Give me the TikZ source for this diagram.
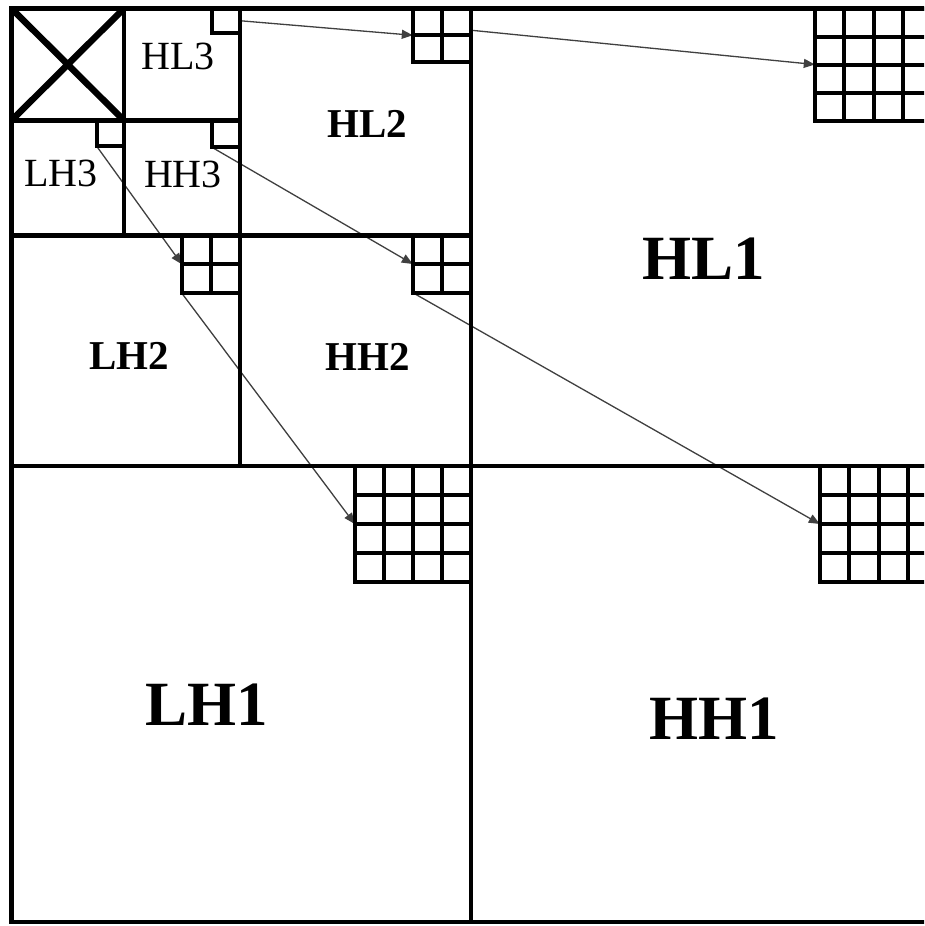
\documentclass[tikz,border=0pt]{standalone}
\usepackage{fontspec}
\setmainfont{Liberation Serif}
\usetikzlibrary{arrows.meta,fit}
\pgfdeclarelayer{bg}
\pgfsetlayers{bg,main}
\newcommand{\blocknode}[5]{% name, left, top, right, bottom
  \coordinate (#1-a) at (#2,#3);
  \coordinate (#1-b) at (#4,#5);
  \node[fit=(#1-a)(#1-b), inner sep=0pt] (#1) {};
}
\newcommand{\blockgrid}[5]{% left, top, right, bottom, n
  \draw[gridline] (#1,#2) rectangle (#3,#4);
  \ifnum#5>1
    \pgfmathtruncatemacro{\nnm}{#5-1}
    \foreach \k in {1,...,\nnm} {
      \draw[gridline] ({#1+\k*(#3-#1)/#5},#2) -- ({#1+\k*(#3-#1)/#5},#4);
      \draw[gridline] (#1,{#2+\k*(#4-#2)/#5}) -- (#3,{#2+\k*(#4-#2)/#5});
    }
  \fi
}
\begin{document}
\begin{tikzpicture}[x=1pt,y=-1pt,
  frameline/.style={line width=4.2pt, line cap=rect, line join=miter},
  gridline/.style={line width=4pt, line cap=rect, line join=miter},
  xline/.style={line width=6.5pt},
  arr/.style={draw=black!75, line width=1.3pt, -{Triangle[length=11pt,width=9pt]}},
  lab3/.style={inner sep=0pt, font=\fontsize{40}{44}\selectfont},
  lab2/.style={inner sep=0pt, font=\fontsize{41}{45}\selectfont\bfseries},
  lab1/.style={inner sep=0pt, font=\fontsize{63}{68}\selectfont\bfseries}]
\useasboundingbox (0,0) rectangle (924,926);
\clip (0,0) rectangle (924,926);

% block nodes
\blocknode{hlthree}{211.5}{8.5}{240}{33}
\blocknode{lhthree}{96.5}{120.5}{124}{145.5}
\blocknode{hhthree}{212}{120.5}{240}{147}
\blocknode{hltwo}{413}{8.5}{471}{62}
\blocknode{lhtwo}{182}{235.5}{240}{293}
\blocknode{hhtwo}{413}{235.5}{471}{292.5}
\blocknode{hlone}{815}{8.5}{932}{120.5}
\blocknode{lhone}{355}{466}{471}{582}
\blocknode{hhone}{820}{466}{937}{582}

% background and connectors (under the lines)
\begin{pgfonlayer}{bg}
\fill[white] (0,0) rectangle (924,926);
\draw[arr] (hlthree.east) -- (hltwo.west);
\draw[arr] ([yshift=5pt]hltwo.east) -- (hlone.west);
\draw[arr] (hhthree.south west) -- (hhtwo.west);
\draw[arr] (hhtwo.south west) -- (hhone.west);
\draw[arr] (lhthree.south west) -- (lhtwo.west);
\draw[arr] (lhtwo.south west) -- (lhone.west);
\end{pgfonlayer}

% subband frame
\draw[frameline] (940,8.5) -- (11.5,8.5) -- (11.5,922) -- (940,922);
\draw[frameline] (471,8.5) -- (471,922);
\draw[frameline] (11.5,466) -- (940,466);
\draw[frameline] (240,8.5) -- (240,466);
\draw[frameline] (11.5,235.5) -- (471,235.5);
\draw[frameline] (124,8.5) -- (124,235.5);
\draw[frameline] (11.5,120.5) -- (240,120.5);

% cross in LL3
\begin{scope}
\clip (11.5,8.5) rectangle (124,120.5);
\draw[xline] (11.5,8.5) -- (124,120.5) (124,8.5) -- (11.5,120.5);
\end{scope}

% coefficient blocks
\blockgrid{211.5}{8.5}{240}{33}{1}
\blockgrid{96.5}{120.5}{124}{145.5}{1}
\blockgrid{212}{120.5}{240}{147}{1}
\blockgrid{413}{8.5}{471}{62}{2}
\blockgrid{182}{235.5}{240}{293}{2}
\blockgrid{413}{235.5}{471}{292.5}{2}
\blockgrid{815}{8.5}{932}{120.5}{4}
\blockgrid{355}{466}{471}{582}{4}
\blockgrid{820}{466}{937}{582}{4}

% labels
\node[lab3] (hl3) at (178,56.5) {HL3};
\node[lab3] (lh3) at (61,173.5) {LH3};
\node[lab3] (hh3) at (183,174) {HH3};
\node[lab2] (hl2) at (367,123.5) {HL2};
\node[lab2] (lh2) at (129,356) {LH2};
\node[lab2] (hh2) at (368,357) {HH2};
\node[lab1] (hl1) at (704,258.5) {HL1};
\node[lab1] (lh1) at (207,705) {LH1};
\node[lab1] (hh1) at (714,718.5) {HH1};
\end{tikzpicture}
\end{document}
